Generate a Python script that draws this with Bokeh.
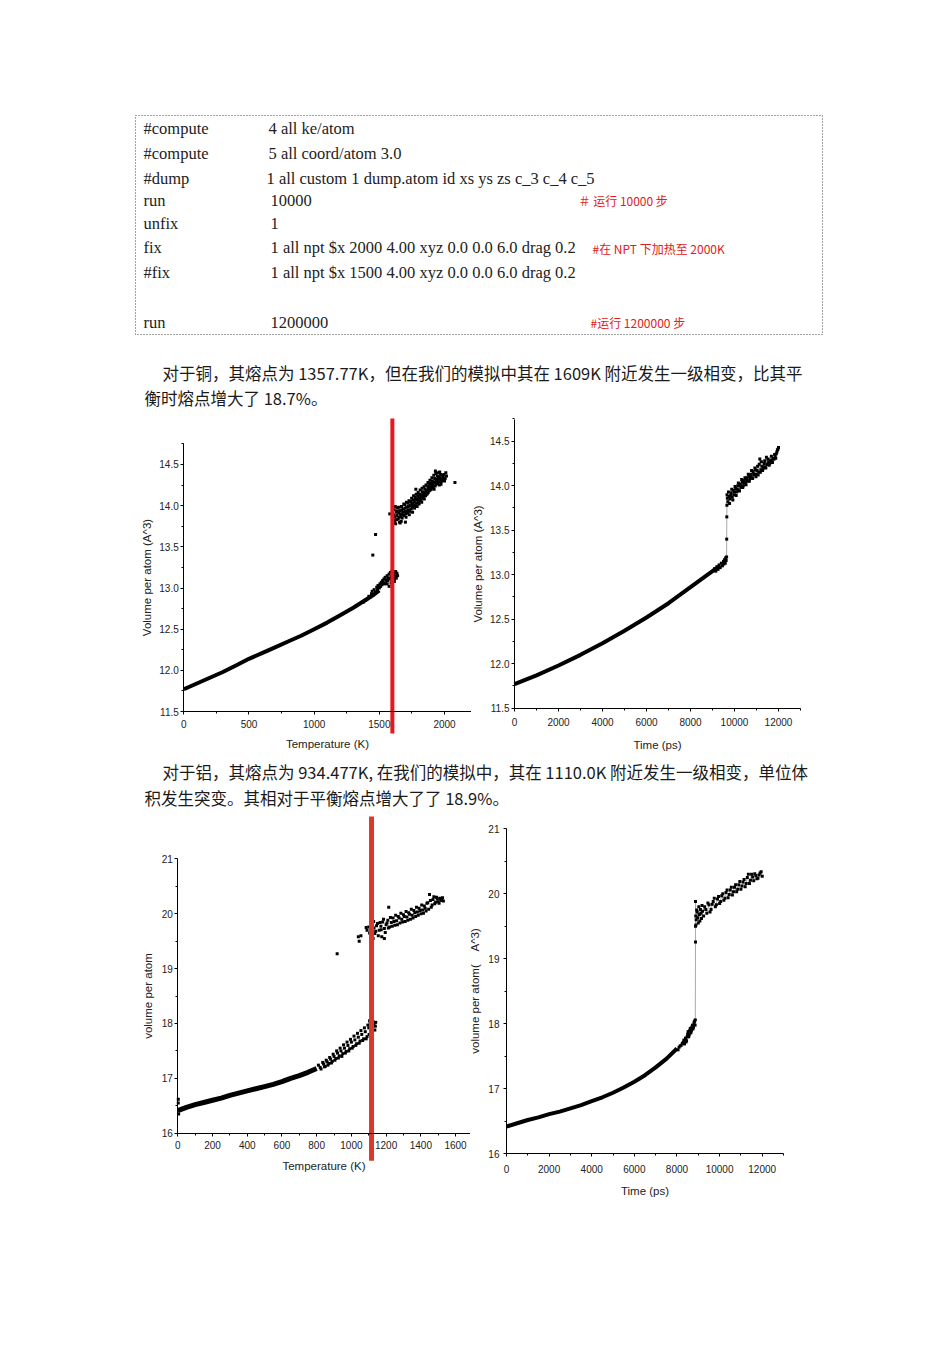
from bokeh.plotting import figure
from bokeh.layouts import column, row
from bokeh.models import Range1d, Spacer, LinearAxis, FixedTicker, NumeralTickFormatter
from bokeh.core.properties import value
from bokeh.embed import file_html
from bokeh.resources import INLINE

SERIF = "Liberation Serif"
SANS = "Liberation Sans"
CJK = "Noto Sans CJK SC"

# ---------------- text content ----------------
code_keys = ["#compute", "#compute", "#dump", "run", "unfix", "fix", "#fix", "run"]
code_args = ["4 all ke/atom", "5 all coord/atom 3.0",
             "1 all custom 1 dump.atom id xs ys zs c_3 c_4 c_5", "10000", "1",
             "1 all npt $x 2000 4.00 xyz 0.0 0.0 6.0 drag 0.2",
             " 1 all npt $x 1500 4.00 xyz 0.0 0.0 6.0 drag 0.2", "1200000"]
code_comments = ["＃ 运行 10000 步", "#在 NPT 下加热至 2000K", "#运行 1200000 步"]
para_cu = ["对于铜，其熔点为 1357.77K，但在我们的模拟中其在 1609K 附近发生一级相变，比其平",
           "衡时熔点增大了 18.7%。"]
para_al = ["对于铝，其熔点为 934.477K, 在我们的模拟中，其在 1110.0K 附近发生一级相变，单位体",
           "积发生突变。其相对于平衡熔点增大了了 18.9%。"]

# ---------------- Cu : volume vs temperature ----------------
cu_temp_line_T = [0, 100, 200, 300, 400, 500, 600, 700, 800, 900, 1000, 1100, 1200, 1300, 1400, 1450, 1500]
cu_temp_line_V = [11.77, 11.84, 11.91, 11.98, 12.06, 12.14, 12.21, 12.28, 12.35, 12.42, 12.50, 12.58, 12.67, 12.76, 12.86, 12.91, 12.97]
cu_temp_pts_T = [1380, 1395, 1410, 1420, 1430, 1440, 1445, 1455, 1460, 1470, 1480, 1485, 1490, 1500, 1505, 1510,
                 1515, 1520, 1525, 1530, 1535, 1540, 1545, 1550, 1555, 1560, 1565, 1570, 1575, 1580, 1585, 1590,
                 1595, 1600, 1605, 1610, 1615, 1620, 1625, 1630, 1640, 1560, 1575, 1590, 1598, 1615, 1625, 1635,
                 1450, 1471, 1580,
                 1605, 1610, 1615, 1620, 1625, 1630, 1635, 1640, 1645, 1650, 1655, 1660, 1665, 1670, 1675, 1680,
                 1685, 1690, 1695, 1700, 1705, 1710, 1715, 1720, 1725, 1730, 1735, 1740, 1745, 1750, 1755, 1760,
                 1765, 1770, 1775, 1780, 1785, 1790, 1795, 1800, 1805, 1810, 1815, 1820, 1825, 1830, 1835, 1840,
                 1845, 1850, 1855, 1860, 1865, 1870, 1875, 1880, 1885, 1890, 1895, 1900, 1905, 1910, 1915, 1920,
                 1925, 1930, 1935, 1940, 1945, 1950, 1955, 1960, 1965, 1970, 1975, 1980, 1990, 2000, 2010, 2080,
                 1780, 1700, 1660,
                 1612, 1618, 1623, 1633, 1638, 1648, 1652, 1663, 1668, 1673, 1683, 1688, 1698, 1703, 1708, 1718,
                 1722, 1728, 1733, 1743, 1748, 1753, 1758, 1763, 1768, 1773, 1778, 1783, 1788, 1793, 1798, 1803,
                 1808, 1813, 1818, 1823, 1828, 1833, 1838, 1843, 1848, 1853, 1858, 1863, 1868, 1873, 1878, 1883,
                 1888, 1893, 1898, 1903, 1908, 1913, 1918, 1923, 1928, 1933, 1938, 1943, 1948, 1953, 1958, 1963,
                 1968, 1973, 1978, 1985, 1995, 2005, 2015]
cu_temp_pts_V = [12.83, 12.85, 12.87, 12.90, 12.89, 12.93, 12.96, 12.92, 12.98, 12.95, 13.01, 12.98, 13.03, 13.00, 13.05, 13.02,
                 13.07, 13.04, 13.09, 13.06, 13.11, 13.05, 13.13, 13.08, 13.10, 13.15, 13.09, 13.12, 13.17, 13.11, 13.19, 13.14,
                 13.10, 13.20, 13.13, 13.16, 13.11, 13.18, 13.14, 13.12, 13.15, 13.05, 13.02, 13.06, 13.20, 13.08, 13.20, 13.18,
                 13.40, 13.65, 13.90,
                 13.90, 13.82, 13.95, 13.86, 13.78, 13.92, 13.88, 13.97, 13.84, 13.91, 13.80, 13.94, 13.87, 13.99, 13.85, 13.92,
                 13.96, 13.88, 14.01, 13.93, 13.86, 13.98, 13.91, 14.03, 13.95, 13.89, 14.00, 14.05, 13.96, 14.02, 13.92, 14.07,
                 14.00, 13.97, 14.10, 14.03, 14.08, 13.99, 14.12, 14.05, 14.02, 14.14, 14.07, 14.11, 14.04, 14.17, 14.10, 14.15,
                 14.08, 14.20, 14.12, 14.18, 14.14, 14.24, 14.16, 14.21, 14.27, 14.19, 14.25, 14.22, 14.30, 14.24, 14.28, 14.20,
                 14.33, 14.42, 14.26, 14.30, 14.36, 14.28, 14.32, 14.25, 14.34, 14.38, 14.29, 14.31, 14.35, 14.30, 14.40, 14.28,
                 14.20, 13.80, 13.79,
                 13.88, 13.80, 13.99, 13.83, 13.93, 13.98, 13.86, 13.90, 13.81, 13.95, 13.89, 14.02, 13.97, 13.90, 14.04, 13.94,
                 13.99, 14.06, 13.93, 14.01, 14.09, 13.98, 14.03, 14.12, 14.05, 14.00, 14.08, 14.14, 14.03, 14.07, 14.16, 14.09,
                 14.06, 14.19, 14.12, 14.08, 14.21, 14.14, 14.11, 14.23, 14.16, 14.13, 14.25, 14.19, 14.15, 14.28, 14.22, 14.18,
                 14.31, 14.24, 14.20, 14.34, 14.27, 14.23, 14.37, 14.29, 14.24, 14.39, 14.32, 14.27, 14.40, 14.35, 14.29, 14.41,
                 14.33, 14.26, 14.37, 14.32, 14.38, 14.33, 14.36]
cu_melt_T = 1600
cu_melt_span = [11.233, 15.06]

# ---------------- Cu : volume vs time ----------------
cu_time_line_t = [0, 1000, 2000, 3000, 4000, 5000, 6000, 7000, 8000, 8500, 9000, 9300]
cu_time_line_V = [11.77, 11.87, 11.98, 12.10, 12.23, 12.37, 12.52, 12.68, 12.86, 12.95, 13.04, 13.09]
cu_time_pts_t = [9050, 9100, 9150, 9200, 9250, 9300, 9350, 9400, 9450, 9500, 9520, 9550, 9580, 9600, 9620, 9640,
                 9645, 9650, 9655, 9660,
                 9700, 9750, 9800, 9850, 9900, 9950, 10000, 10050, 10100, 10150, 10200, 10250, 10300, 10350,
                 10400, 10450, 10500, 10550, 10600, 10650, 10700, 10750, 10800, 10850, 10900, 10950, 11000,
                 11050, 11100, 11150, 11200, 11250, 11300, 11350, 11400, 11450, 11500, 11550, 11600, 11650,
                 11700, 11750, 11800, 11850, 11900, 11950, 12000]
cu_time_pts_V = [13.05, 13.07, 13.04, 13.09, 13.06, 13.11, 13.08, 13.13, 13.10, 13.15, 13.12, 13.17, 13.13, 13.19, 13.16, 13.20,
                 13.40, 13.65, 13.78, 13.90,
                 13.82, 13.88, 13.85, 13.92, 13.87, 13.95, 13.93, 13.97, 13.93, 14.00, 13.95, 14.02, 13.98, 14.04,
                 14.00, 14.06, 14.03, 14.09, 14.05, 14.10, 14.08, 14.13, 14.09, 14.16, 14.12, 14.18, 14.13,
                 14.22, 14.15, 14.30, 14.18, 14.22, 14.19, 14.25, 14.21, 14.32, 14.24, 14.27, 14.25, 14.29,
                 14.27, 14.31, 14.30, 14.34, 14.36, 14.40, 14.43]
cu_time_extra_t = [9675, 9725, 9775, 9825, 9875, 9925, 9975, 10025, 10075, 10125, 10175, 10225, 10275, 10325, 10375,
                   10425, 10475, 10525, 10575, 10625, 10675, 10725, 10775, 10825, 10875, 10925, 10975, 11025, 11075,
                   11125, 11175, 11225, 11275, 11325, 11375, 11425, 11475, 11525, 11575, 11625, 11675, 11725, 11775,
                   11825, 11875, 11925, 11975]
cu_time_extra_V = [13.86, 13.93, 13.80, 13.89, 13.96, 13.84, 13.90, 13.99, 13.89, 13.96, 14.03, 13.94, 14.00, 14.07, 13.98,
                   14.03, 14.09, 14.01, 14.06, 14.13, 14.05, 14.11, 14.17, 14.08, 14.13, 14.20, 14.10, 14.17, 14.12,
                   14.24, 14.15, 14.27, 14.17, 14.21, 14.28, 14.20, 14.24, 14.30, 14.23, 14.27, 14.33, 14.26, 14.30,
                   14.35, 14.31, 14.38, 14.41]

# ---------------- Al : volume vs temperature ----------------
al_temp_line_T = [0, 50, 100, 150, 200, 250, 300, 350, 400, 450, 500, 550, 600, 650, 700, 750, 800]
al_temp_line_V = [16.41, 16.47, 16.52, 16.56, 16.60, 16.64, 16.69, 16.73, 16.77, 16.81, 16.85, 16.89, 16.94, 17.00, 17.05, 17.11, 17.18]
al_temp_pts_T = [3, 3, 5, 820, 840, 850, 860, 870, 880, 890, 900, 910, 920, 930, 940, 950, 960, 970, 980, 990, 1000,
                 1010, 1020, 1030, 1040, 1050, 1060, 1070, 1080, 1090, 1100, 1105, 1110, 1115, 1120, 1130, 1135, 1140,
                 810, 825, 835, 845, 855, 865, 875, 885, 895, 905, 915, 925, 935, 945, 955, 965, 975, 985, 995, 1005,
                 1015, 1025, 1035, 1045, 1055, 1065, 1075, 1085, 1095, 1102, 1108, 1118, 1125, 1138,
                 918, 1040, 1045, 1055, 1085, 1090, 1100,
                 1110, 1115, 1120, 1125, 1130, 1140, 1150, 1160, 1170, 1175, 1180, 1190, 1200, 1210, 1220, 1230,
                 1240, 1250, 1260, 1270, 1280, 1290, 1300, 1310, 1320, 1330, 1340, 1350, 1360, 1370, 1380, 1390,
                 1400, 1410, 1420, 1430, 1440, 1450, 1460, 1470, 1480, 1490, 1500, 1510, 1520, 1530, 1190, 1215,
                 1105, 1112, 1118, 1122, 1128, 1135, 1145, 1155, 1165, 1172, 1185, 1195, 1205, 1213, 1225, 1235,
                 1245, 1255, 1265, 1275, 1285, 1295, 1305, 1315, 1325, 1335, 1345, 1355, 1365, 1375, 1385, 1395,
                 1405, 1415, 1425, 1435, 1445, 1455, 1465, 1475, 1485, 1495, 1505, 1515, 1525]
al_temp_pts_V = [16.62, 16.55, 16.35, 17.20, 17.26, 17.22, 17.30, 17.27, 17.35, 17.31, 17.40, 17.36, 17.46, 17.41, 17.50, 17.45,
                 17.55, 17.49, 17.60, 17.54, 17.66, 17.58, 17.70, 17.63, 17.75, 17.68, 17.80, 17.72, 17.85, 17.76, 17.92,
                 18.05, 17.82, 17.97, 17.90, 18.00, 17.88, 18.02,
                 17.24, 17.17, 17.29, 17.21, 17.33, 17.24, 17.38, 17.28, 17.44, 17.33, 17.50, 17.37, 17.55, 17.40, 17.61, 17.46,
                 17.66, 17.50, 17.71, 17.55, 17.77, 17.60, 17.82, 17.64, 17.87, 17.69, 17.92, 17.72, 17.97, 17.80, 18.02, 17.85,
                 18.03, 17.95,
                 19.27, 19.58, 19.50, 19.60, 19.75, 19.70, 19.76,
                 19.72, 19.62, 19.80, 19.55, 19.74, 19.68, 19.82, 19.70, 19.77, 19.58, 19.85, 19.73, 19.80, 19.88, 19.76, 19.84,
                 19.92, 19.79, 19.87, 19.95, 19.83, 19.90, 19.98, 19.86, 19.94, 20.02, 19.90, 19.97, 20.06, 19.95, 20.03, 20.10,
                 20.00, 20.07, 20.14, 20.05, 20.20, 20.35, 20.12, 20.26, 20.18, 20.30, 20.22, 20.28, 20.24, 20.23, 19.55, 20.12,
                 19.65, 19.84, 19.58, 19.70, 19.86, 19.64, 19.78, 19.60, 19.84, 19.71, 19.90, 19.66, 19.83, 19.74, 19.93, 19.77,
                 19.86, 19.97, 19.80, 19.92, 20.01, 19.85, 19.95, 20.04, 19.88, 19.99, 20.08, 19.92, 20.02, 20.12, 19.97, 20.06,
                 20.16, 20.01, 20.10, 20.19, 20.08, 20.24, 20.16, 20.31, 20.21, 20.27, 20.19, 20.25, 20.29]
al_melt_T = 1116
al_melt_span = [15.50, 21.77]

# ---------------- Al : volume vs time ----------------
al_time_line_t = [0, 500, 1000, 1500, 2000, 2500, 3000, 3500, 4000, 4500, 5000, 5500, 6000, 6500, 7000, 7500, 8000]
al_time_line_V = [16.42, 16.47, 16.52, 16.56, 16.61, 16.65, 16.70, 16.75, 16.81, 16.87, 16.94, 17.02, 17.11, 17.21, 17.33, 17.46, 17.62]
al_time_pts_t = [8100, 8200, 8300, 8350, 8400, 8450, 8500, 8550, 8600, 8650, 8700, 8750, 8800, 8850, 8860,
                 8870, 8870, 8870,
                 8900, 8950, 9000, 9050, 9100, 9150, 9200, 9300, 9400, 9500, 9600, 9700, 9800, 9900, 10000,
                 10100, 10200, 10300, 10400, 10500, 10600, 10700, 10800, 10900, 11000, 11100, 11200, 11300,
                 11400, 11500, 11600, 11700, 11800, 11900, 12000]
al_time_pts_V = [17.64, 17.67, 17.72, 17.69, 17.78, 17.74, 17.84, 17.80, 17.90, 17.86, 17.95, 17.92, 18.02, 17.98, 18.06,
                 19.26, 19.50, 19.88,
                 19.60, 19.72, 19.55, 19.68, 19.76, 19.62, 19.73, 19.80, 19.70, 19.83, 19.76, 19.88, 19.80, 19.92, 19.85,
                 19.97, 19.90, 20.02, 19.94, 20.06, 19.98, 20.10, 20.03, 20.14, 20.07, 20.18, 20.11, 20.25,
                 20.16, 20.30, 20.20, 20.28, 20.24, 20.32, 20.27]
al_time_extra_t = [8050, 8150, 8250, 8325, 8425, 8475, 8525, 8575, 8625, 8675, 8725, 8775, 8825,
                   8880, 8890, 8925, 8975, 9025, 9075, 9125, 9175, 9250, 9350, 9450, 9550, 9650, 9750, 9850, 9950,
                   10050, 10150, 10250, 10350, 10450, 10550, 10650, 10750, 10850, 10950, 11050, 11150, 11250,
                   11350, 11450, 11550, 11650, 11750, 11850, 11950]
al_time_extra_V = [17.60, 17.66, 17.70, 17.75, 17.72, 17.80, 17.88, 17.83, 17.93, 17.89, 17.98, 17.95, 18.04,
                   19.66, 19.52, 19.75, 19.63, 19.80, 19.58, 19.70, 19.82, 19.66, 19.76, 19.86, 19.72, 19.84, 19.93,
                   19.83, 19.96, 19.88, 20.00, 19.93, 20.06, 19.99, 20.10, 20.03, 20.14, 20.07, 20.19, 20.12, 20.22,
                   20.16, 20.30, 20.21, 20.26, 20.31, 20.23, 20.29, 20.34]

# ---------------- ticks ----------------
cu_vol_ticks = [11.5, 12.0, 12.5, 13.0, 13.5, 14.0, 14.5]
cu_vol_minor = [11.75, 12.25, 12.75, 13.25, 13.75, 14.25, 14.75]
cu_temp_ticks = [0, 500, 1000, 1500, 2000]
cu_temp_minor = [250, 750, 1250, 1750]
time_ticks = [0, 2000, 4000, 6000, 8000, 10000, 12000]
time_minor = [1000, 3000, 5000, 7000, 9000, 11000, 13000]
al_vol_ticks = [16, 17, 18, 19, 20, 21]
al_vol_minor = [16.5, 17.5, 18.5, 19.5, 20.5]
al_temp_ticks = [0, 200, 400, 600, 800, 1000, 1200, 1400, 1600]
al_temp_minor = [100, 300, 500, 700, 900, 1100, 1300, 1500]


def blank(w, h, xr, yr):
    p = figure(width=w, height=h, x_range=Range1d(*xr), y_range=Range1d(*yr),
               output_backend="svg", toolbar_location=None, min_border=0,
               outline_line_color=None, x_axis_type=None, y_axis_type=None)
    p.background_fill_color = "white"
    p.border_fill_color = "white"
    return p


def axis(p, side, ticks, minor, bounds, loc, label, fmt, tick_standoff, label_standoff,
         tick_size="10px", label_size="11.5px"):
    ax = LinearAxis(ticker=FixedTicker(ticks=ticks, minor_ticks=minor), bounds=bounds,
                    fixed_location=loc, axis_label=label, formatter=NumeralTickFormatter(format=fmt))
    ax.major_tick_in = 0
    ax.major_tick_out = 3
    ax.minor_tick_in = 0
    ax.minor_tick_out = 2
    ax.axis_line_color = "black"
    ax.major_tick_line_color = "black"
    ax.minor_tick_line_color = "black"
    ax.major_label_text_font = SANS
    ax.major_label_text_font_size = tick_size
    ax.major_label_text_color = "#222"
    ax.axis_label_text_font = SANS
    ax.axis_label_text_font_size = label_size
    ax.axis_label_text_font_style = "normal"
    ax.axis_label_text_color = "#222"
    ax.major_label_standoff = tick_standoff
    ax.axis_label_standoff = label_standoff
    p.add_layout(ax, side)
    return ax


def dots(p, x, y):
    p.scatter(x, y, marker="square", size=3, fill_color="black", line_color=None)


# ---------------- top text block ----------------
top = blank(950, 415, (0, 950), (415, 0))
top.quad(left=[135], right=[822], top=[115], bottom=[334], fill_color=None,
         line_color="#444", line_dash="1 2", line_width=1)
code_y = [128, 153, 178, 200, 223, 247, 272, 322]
top.text(x=[143] * len(code_keys), y=code_y, text=code_keys, text_font=value(SERIF),
         text_font_size="16.5px", text_baseline="middle", text_color="#222")
top.text(x=[268, 268, 266, 270, 270, 270, 270, 270], y=code_y, text=code_args, text_font=value(SERIF),
         text_font_size="16.5px", text_baseline="middle", text_color="#222")
top.text(x=[578, 592, 590], y=[200, 248, 322], text=code_comments, text_font=value(CJK),
         text_font_size="12px", text_baseline="middle", text_color="#e02020")
top.text(x=[162, 144], y=[372, 397], text=para_cu, text_font=value(CJK),
         text_font_size="16.5px", text_baseline="middle", text_color="#1a1a1a")

# ---------------- Cu plots ----------------
pA = blank(471, 340, (-1406, 2207), (10.966, 15.095))
axis(pA, "left", cu_vol_ticks, cu_vol_minor, (11.5, 14.75), 0, "Volume per atom (A^3)", "0.0", 2, 3)
axis(pA, "below", cu_temp_ticks, cu_temp_minor, (0, 2207), 11.5, "Temperature (K)", "0", 5, 7)
pA.line(cu_temp_line_T, cu_temp_line_V, line_width=4, color="black")
dots(pA, cu_temp_pts_T, cu_temp_pts_V)
pA.line([cu_melt_T, cu_melt_T], cu_melt_span, line_width=4, color="#e8161d")

pB = blank(479, 340, (-1955, 19818), (10.969, 14.789))
axis(pB, "left", cu_vol_ticks, cu_vol_minor, (11.5, 14.74), 0, "Volume per atom (A^3)", "0.0", 2, 3)
axis(pB, "below", time_ticks, time_minor, (0, 13000), 11.5, "Time (ps)", "0", 7, 9)
pB.line(cu_time_line_t + cu_time_pts_t, cu_time_line_V + cu_time_pts_V, line_width=1, color="#aaaaaa")
pB.line(cu_time_line_t, cu_time_line_V, line_width=4, color="black")
dots(pB, cu_time_pts_t, cu_time_pts_V)
dots(pB, cu_time_extra_t, cu_time_extra_V)

# ---------------- middle text ----------------
mid = blank(950, 57, (0, 950), (812, 755))
mid.text(x=[162, 144], y=[771, 797], text=para_al, text_font=value(CJK),
         text_font_size="16.5px", text_baseline="middle", text_color="#1a1a1a")

# ---------------- Al plots ----------------
pC = blank(470, 398, (-1021, 1686), (14.591, 21.845))
axis(pC, "left", al_vol_ticks, al_vol_minor, (16, 21), 0, "volume per atom", "0", 2, 4)
axis(pC, "below", al_temp_ticks, al_temp_minor, (0, 1686), 16, "Temperature (K)", "0", 5, 7)
pC.line(al_temp_line_T, al_temp_line_V, line_width=5, color="black")
dots(pC, al_temp_pts_T, al_temp_pts_V)
pC.line([al_melt_T, al_melt_T], al_melt_span, line_width=5, color="#d9392c")

pD = blank(480, 398, (-1689, 20835), (15.128, 21.251))
axis(pD, "left", al_vol_ticks, al_vol_minor, (16, 21), 0,
     "volume per atom(\u00a0\u00a0\u00a0\u00a0A^3)", "0", 4, 4)
axis(pD, "below", time_ticks, time_minor, (0, 13000), 16, "Time (ps)", "0", 8, 9)
pD.line(al_time_line_t + al_time_pts_t, al_time_line_V + al_time_pts_V, line_width=1, color="#aaaaaa")
pD.line(al_time_line_t, al_time_line_V, line_width=4, color="black")
dots(pD, al_time_pts_t, al_time_pts_V)
dots(pD, al_time_extra_t, al_time_extra_V)

layout = column(top, row(pA, pB, spacing=0), mid, row(pC, pD, spacing=0),
                Spacer(width=950, height=135), spacing=0)

open("out.html", "w").write(file_html(layout, INLINE))
